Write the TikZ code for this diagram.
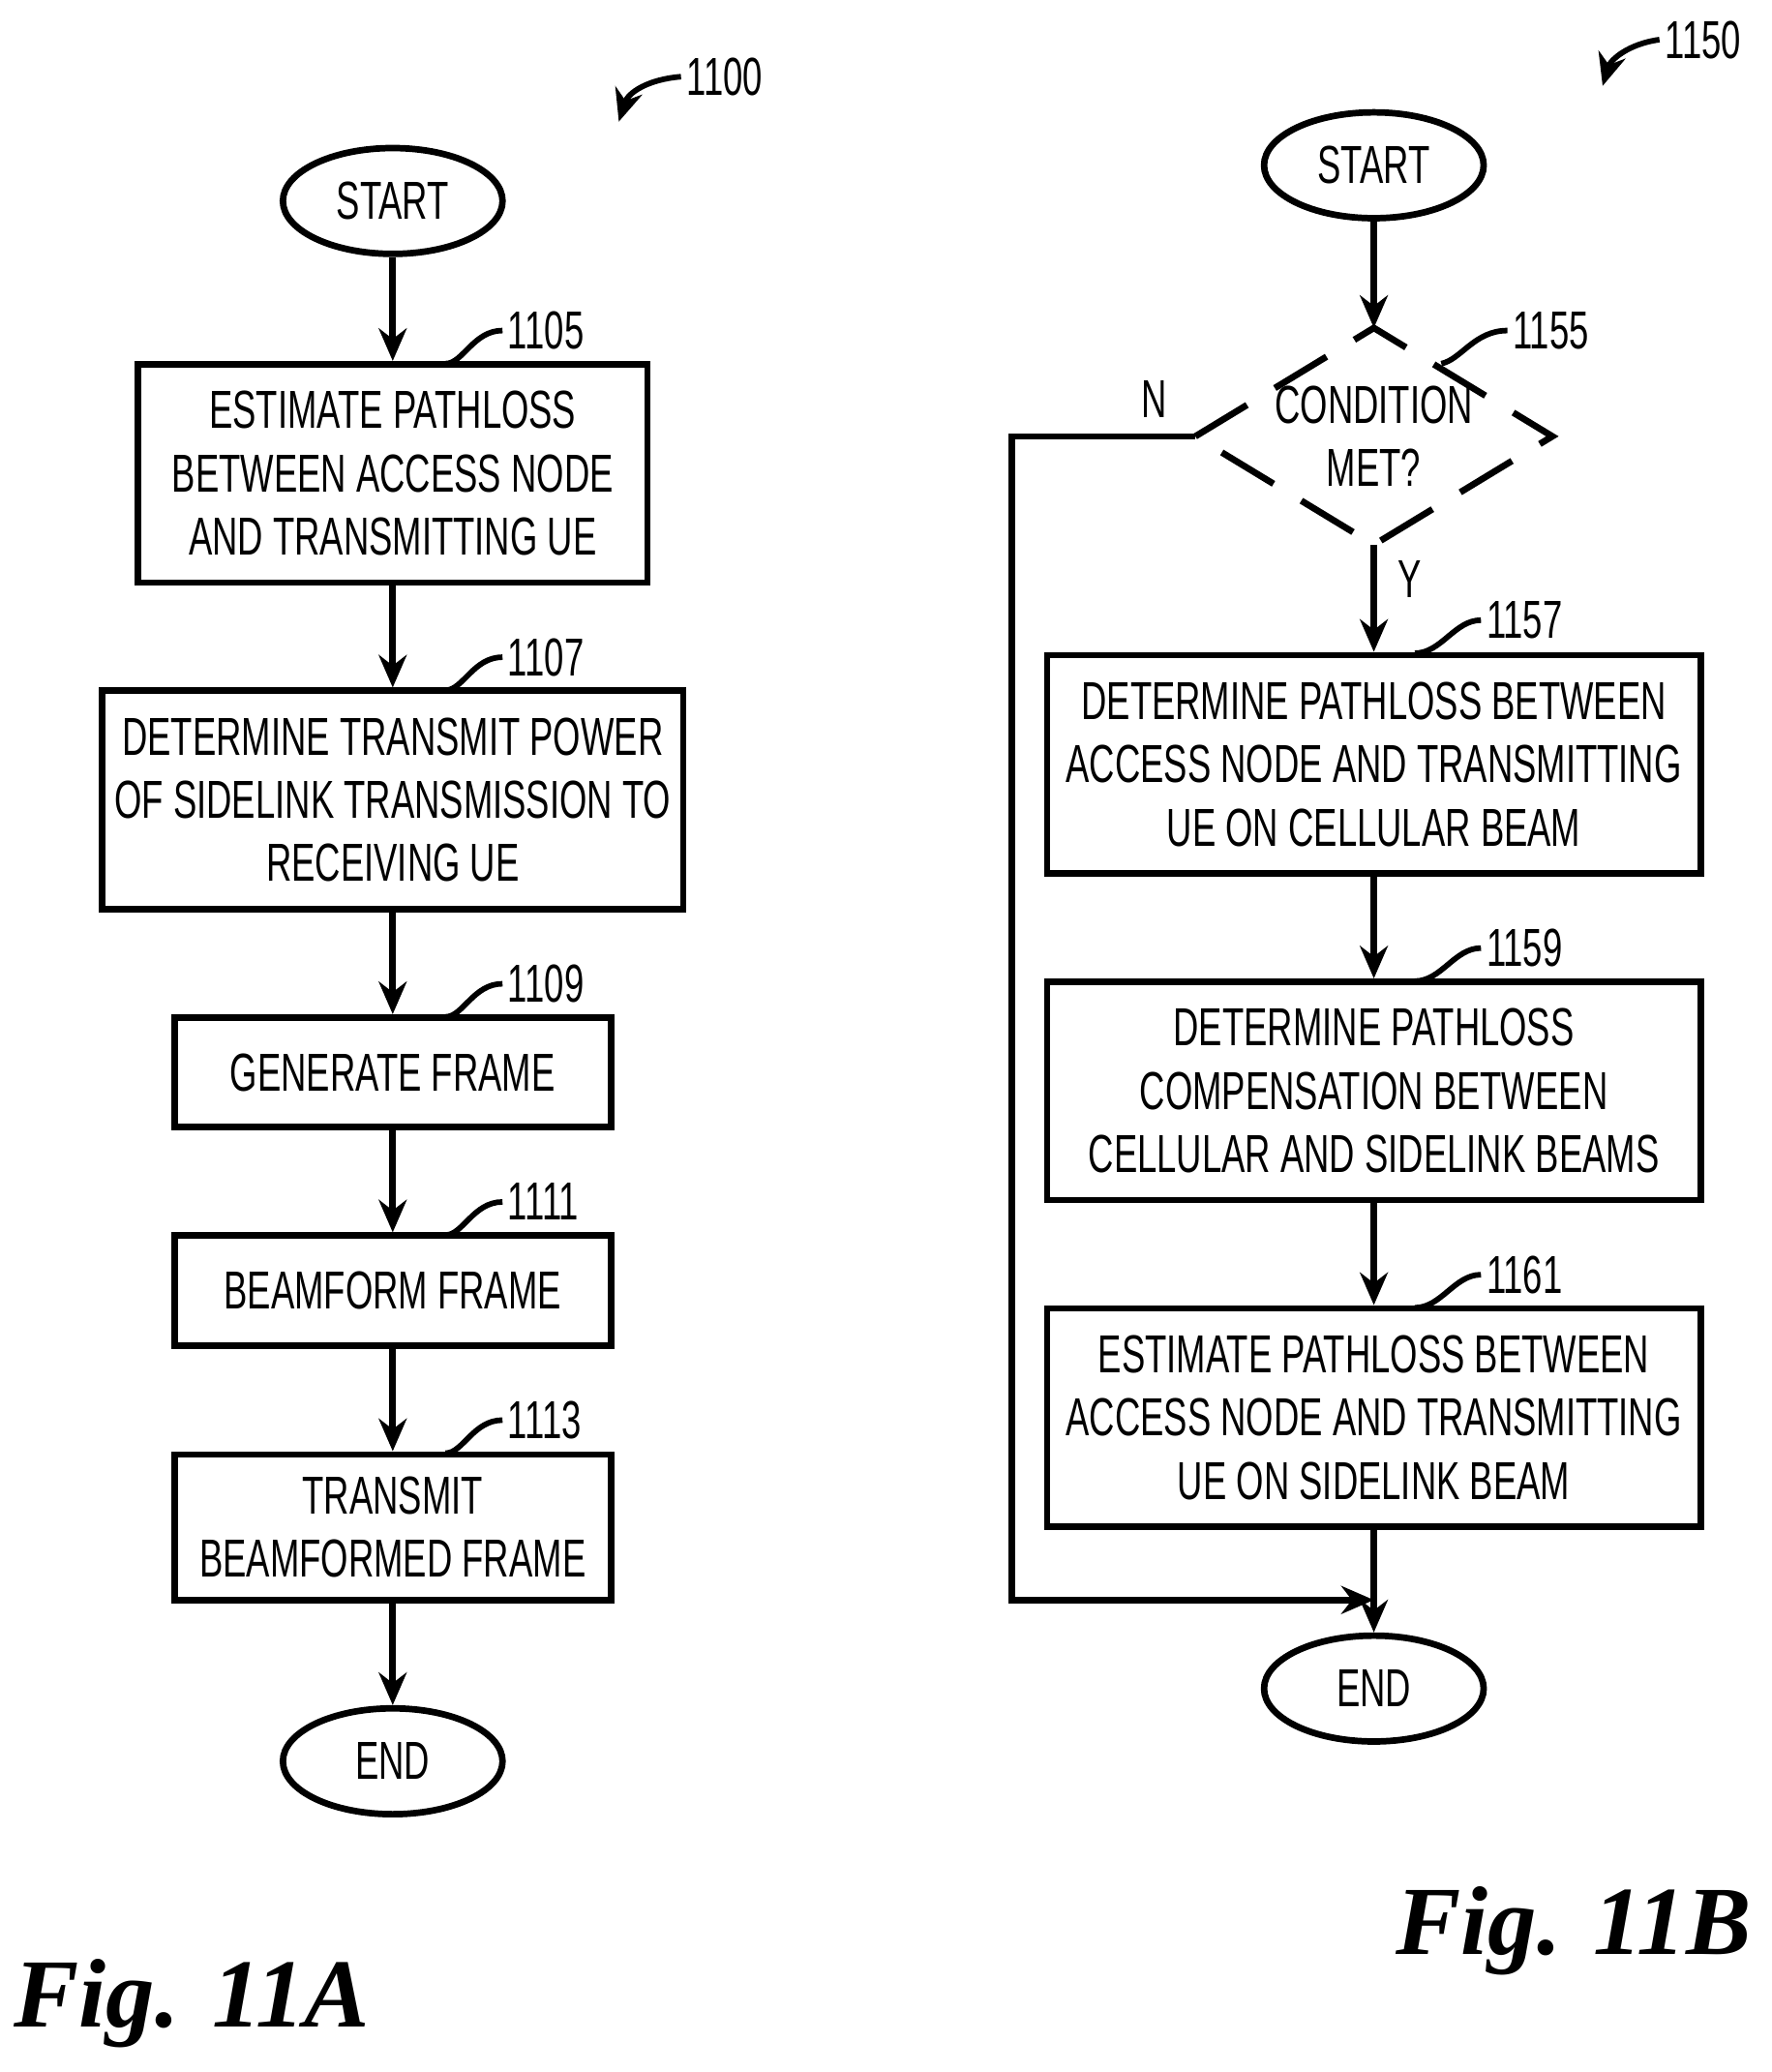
\documentclass[tikz,border=0pt]{standalone}
\usepackage{fontspec}
\setmainfont{Liberation Sans}[FakeStretch=0.66]
\newfontfamily\figfont{Liberation Serif}
\usetikzlibrary{shapes.geometric,arrows.meta,positioning}

\tikzset{
  box/.style={draw,line width=1.4pt,align=center,inner sep=0pt,font=\fontsize{11.5}{13.6}\selectfont},
  term/.style={draw,ellipse,line width=1.4pt,minimum width=1.66cm,minimum height=0.8cm,inner sep=0pt,font=\fontsize{11.5}{13.6}\selectfont},
  flow/.style={line width=1.4pt,-{Stealth[length=7pt,width=6pt]}},
  lead/.style={line width=1.2pt},
  num/.style={font=\fontsize{11.5}{13.6}\selectfont,anchor=west,inner sep=1pt},
  fig/.style={font=\figfont\bfseries\itshape\fontsize{21}{24}\selectfont}
}

\begin{document}
\begin{tikzpicture}[x=0.01cm,y=-0.01cm]
\useasboundingbox (0,0) rectangle (1340,1567);

% Fig. 11A
\node[term] (startA) at (297,152) {START};
\node[box,minimum width=3.85cm,minimum height=1.65cm] (b1105) at (297,358) {ESTIMATE PATHLOSS\\BETWEEN ACCESS NODE\\AND TRANSMITTING UE};
\node[box,minimum width=4.39cm,minimum height=1.65cm] (b1107) at (297,605) {DETERMINE TRANSMIT POWER\\OF SIDELINK TRANSMISSION TO\\RECEIVING UE};
\node[box,minimum width=3.3cm,minimum height=0.83cm] (b1109) at (297,811) {GENERATE FRAME};
\node[box,minimum width=3.3cm,minimum height=0.83cm] (b1111) at (297,976) {BEAMFORM FRAME};
\node[box,minimum width=3.3cm,minimum height=1.1cm] (b1113) at (297,1155) {TRANSMIT\\BEAMFORMED FRAME};
\node[term] (endA) at (297,1332) {END};

\draw[flow] (startA) -- (b1105);
\draw[flow] (b1105) -- (b1107);
\draw[flow] (b1107) -- (b1109);
\draw[flow] (b1109) -- (b1111);
\draw[flow] (b1111) -- (b1113);
\draw[flow] (b1113) -- (endA);

\foreach \n/\y in {1105/250,1107/497,1109/744,1111/909,1113/1074}{
  \node[num] (l\n) at (380,\y) {\n};
  \draw[lead] (337,\y+25) .. controls (350,\y+25) and (358,\y) .. (l\n.west);
}
\node[num] (l1100) at (515,58) {1100};
\draw[line width=1.2pt,-{Stealth[length=7pt,width=6pt]}] (l1100.west) .. controls (490,60) and (475,70) .. (468,92);
\node[fig] (figA) at (145,1515) {Fig. 11A};

% Fig. 11B
\node[term] (startB) at (1039,125) {START};
\coordinate (dN) at (1039,248);
\coordinate (dS) at (1039,412);
\coordinate (dW) at (904,330);
\coordinate (dE) at (1174,330);
\draw[line width=1.4pt,dash pattern=on 13pt off 7pt] (dW) -- (dN) -- (dE) -- (dS) -- cycle;
\node[align=center,font=\fontsize{11.5}{13.6}\selectfont] (d1155) at (1039,330) {CONDITION\\MET?};
\node[box,minimum width=4.94cm,minimum height=1.65cm] (b1157) at (1039,578) {DETERMINE PATHLOSS BETWEEN\\ACCESS NODE AND TRANSMITTING\\UE ON CELLULAR BEAM};
\node[box,minimum width=4.94cm,minimum height=1.65cm] (b1159) at (1039,825) {DETERMINE PATHLOSS\\COMPENSATION BETWEEN\\CELLULAR AND SIDELINK BEAMS};
\node[box,minimum width=4.94cm,minimum height=1.65cm] (b1161) at (1039,1072) {ESTIMATE PATHLOSS BETWEEN\\ACCESS NODE AND TRANSMITTING\\UE ON SIDELINK BEAM};
\node[term] (endB) at (1039,1277) {END};
\coordinate (join) at (1039,1210);

\draw[flow] (startB) -- (dN);
\draw[flow] (dS) -- (b1157);
\node[font=\fontsize{11.5}{13.6}\selectfont] (lY) at (1066,438) {Y};
\draw[flow] (b1157) -- (b1159);
\draw[flow] (b1159) -- (b1161);
\draw[flow] (b1161) -- (endB);
\draw[flow] (dW) -| (765,1210) -- (join);
\node[font=\fontsize{11.5}{13.6}\selectfont] (lN) at (873,302) {N};

\node[num] (l1155) at (1140,250) {1155};
\draw[lead] (1090,275) .. controls (1105,272) and (1115,250) .. (l1155.west);
\foreach \n/\y in {1157/469,1159/717,1161/964}{
  \node[num] (l\n) at (1120,\y) {\n};
  \draw[lead] (1070,\y+25) .. controls (1090,\y+25) and (1100,\y) .. (l\n.west);
}
\node[num] (l1150) at (1255,30) {1150};
\draw[line width=1.2pt,-{Stealth[length=7pt,width=6pt]}] (l1150.west) .. controls (1232,33) and (1218,45) .. (1212,65);
\node[fig] (figB) at (1190,1460) {Fig. 11B};
\end{tikzpicture}
\end{document}
